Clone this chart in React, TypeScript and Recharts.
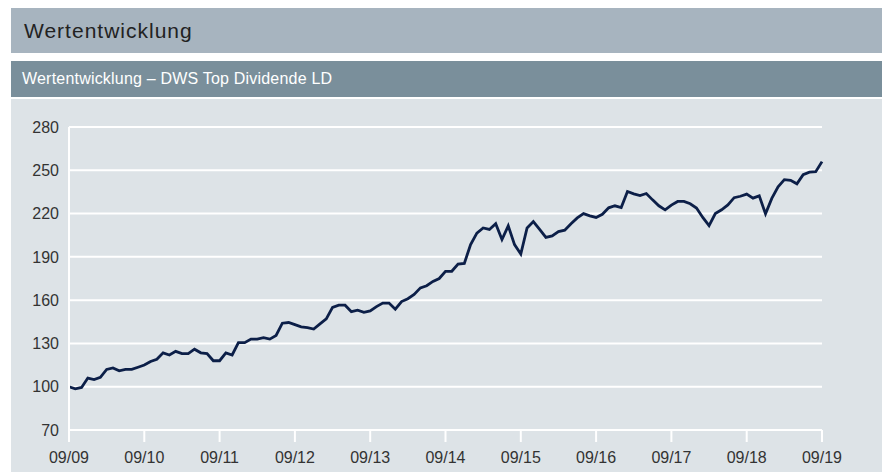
import { LineChart, Line, XAxis, YAxis, CartesianGrid } from 'recharts';

// monthly values, 09/2009 .. 09/2019 (indexed by month)
const values = [
  100, 98.5, 99.5, 106, 105, 106.5, 112, 113, 111, 112, 112, 113.5,
  115, 117.5, 119, 123.5, 122, 124.5, 123, 123, 126, 123.5, 123, 118,
  118, 123.5, 122, 130.5, 130.5, 133, 133, 134, 133, 135.5, 144, 144.5,
  143, 141.5, 141, 140, 143.5, 147, 155, 156.5, 156.5, 152, 153, 151.5,
  152.5, 155.5, 158, 158, 153.7, 159, 161, 164, 168.5, 170, 173, 175,
  180, 180, 185, 185.5, 198.5, 206.5, 210, 209, 213, 202, 211.5, 198.5,
  192, 210, 214.5, 209, 203.5, 204.5, 207.5, 208.5, 213, 217, 220, 218.4,
  217.3, 219.5, 224, 225.4, 224.2, 235.3, 233.7, 232.5, 233.9, 229.5, 225.4, 222.6,
  225.9, 228.4, 228.4, 226.8, 223.8, 217.3, 211.7, 220, 222.6, 226, 231, 232,
  233.5, 230.7, 232.3, 219.8, 230.5, 238.5, 243.5, 243, 240.6, 247, 248.7, 249,
  256,
];

const tickLabels = ['09/09', '09/10', '09/11', '09/12', '09/13', '09/14', '09/15', '09/16', '09/17', '09/18', '09/19'];
const yTicks = [70, 100, 130, 160, 190, 220, 250, 280];

const data = values.map((v, i) => ({ i, v }));
const xTicks = tickLabels.map((_, k) => k * 12);

const font = '"Liberation Sans", Arial, sans-serif';

export default function App() {
  return (
    <div style={{ position: 'absolute', left: 0, top: 0, width: 882, height: 472, background: '#fff', fontFamily: font }}>
      <div style={{ position: 'absolute', left: 11, top: 8, width: 871, height: 45, background: '#a7b4bf', color: '#222', fontSize: 21, letterSpacing: 1, lineHeight: '46px', paddingLeft: 13, boxSizing: 'border-box' }}>
        Wertentwicklung
      </div>
      <div style={{ position: 'absolute', left: 11, top: 61, width: 871, height: 36, background: '#7a8f9b', color: '#fff', fontSize: 16, letterSpacing: 0.2, lineHeight: '36px', paddingLeft: 11, boxSizing: 'border-box' }}>
        Wertentwicklung – DWS Top Dividende LD
      </div>
      <div style={{ position: 'absolute', left: 11, top: 99, width: 871, height: 373, background: '#dde3e7' }}>
        <LineChart width={871} height={373} data={data} margin={{ top: 28, right: 60, bottom: 12, left: 0 }}>
          <CartesianGrid horizontal vertical={false} stroke="#fff" strokeWidth={2} />
          <XAxis
            dataKey="i"
            type="number"
            domain={[0, 120]}
            ticks={xTicks}
            tickFormatter={(v) => tickLabels[v / 12]}
            axisLine={{ stroke: '#fff', strokeWidth: 2 }}
            tickLine={{ stroke: '#fff', strokeWidth: 2 }}
            tickSize={12}
            tickMargin={10}
            height={30}
            tick={{ fill: '#333', fontSize: 16, fontFamily: font }}
          />
          <YAxis
            domain={[70, 280]}
            ticks={yTicks}
            width={58}
            axisLine={{ stroke: '#fff', strokeWidth: 2 }}
            tickLine={false}
            tickMargin={4}
            tick={{ fill: '#333', fontSize: 16, fontFamily: font }}
          />
          <Line type="linear" dataKey="v" stroke="#0c1f48" strokeWidth={2.8} dot={false} isAnimationActive={false} />
        </LineChart>
      </div>
    </div>
  );
}
